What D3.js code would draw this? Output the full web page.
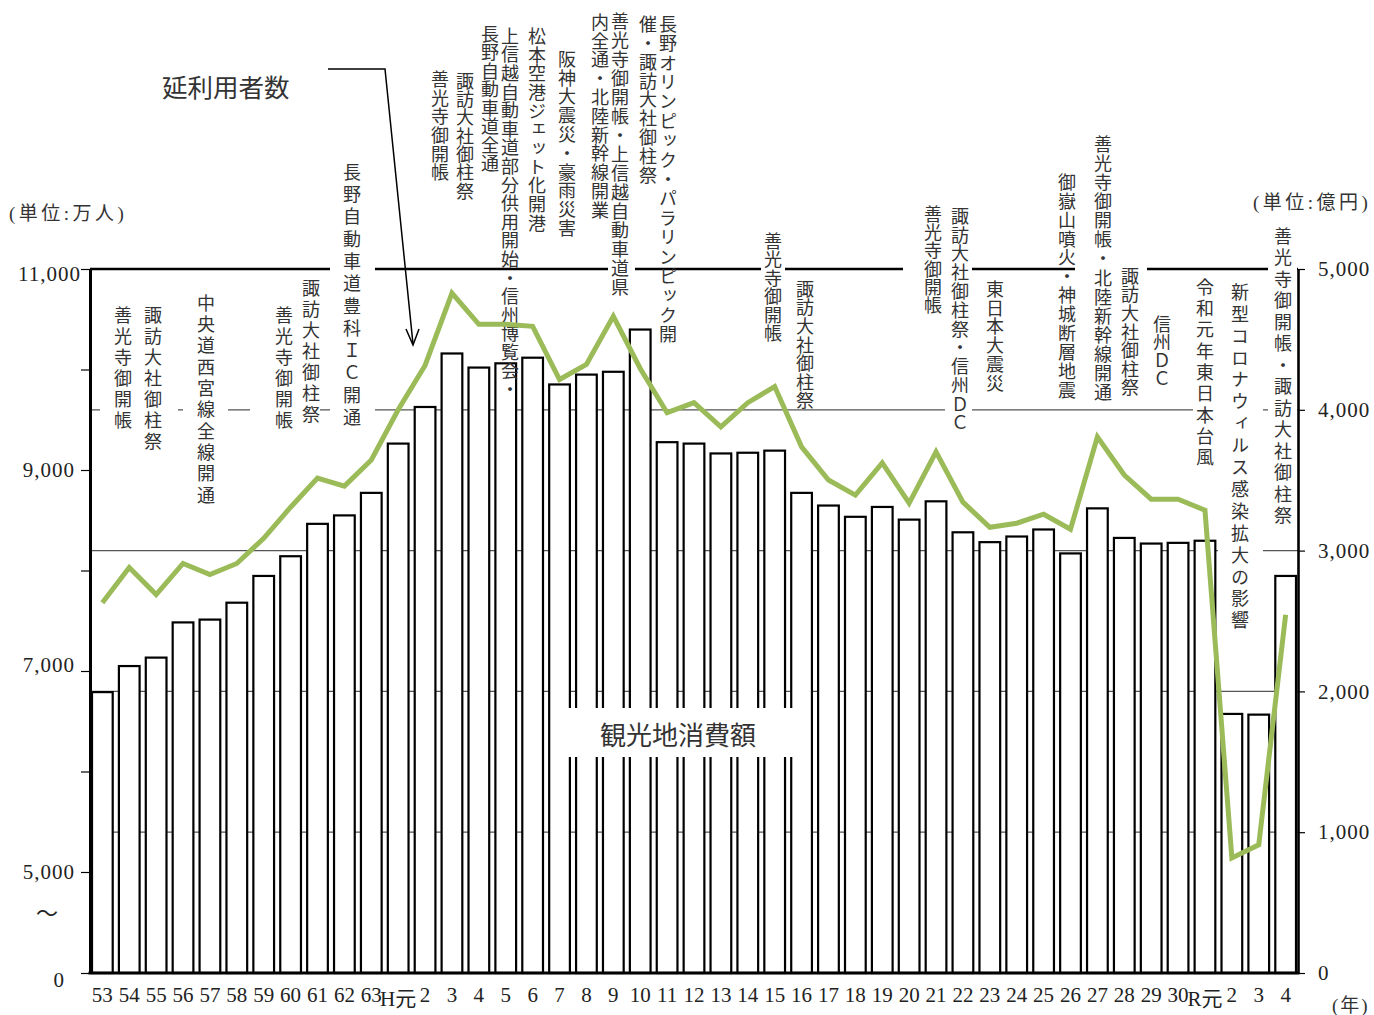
<!DOCTYPE html>
<html><head><meta charset="utf-8">
<script src="https://cdn.jsdelivr.net/npm/d3@7"></script>
<style>
body{margin:0;background:#fff;}
svg{display:block;}
</style></head><body>
<svg id="chart" width="1374" height="1015"></svg>
<script>
// ---------- data ----------
const years = ["53","54","55","56","57","58","59","60","61","62","63","H元","2","3","4","5","6","7","8","9","10","11","12","13","14","15","16","17","18","19","20","21","22","23","24","25","26","27","28","29","30","R元","2","3","4"];
// 観光地消費額 (億円, right axis)
const consumption = [1995,2180,2240,2490,2510,2630,2820,2960,3190,3250,3410,3760,4020,4400,4300,4330,4370,4180,4250,4270,4570,3770,3760,3690,3695,3710,3410,3320,3240,3310,3220,3350,3130,3060,3100,3150,2980,3300,3090,3050,3055,3070,1840,1835,2820];
// 延利用者数 (万人, left axis)
const visitors = [7680,8030,7760,8070,7960,8070,8320,8630,8920,8840,9100,9600,10040,10760,10450,10450,10430,9900,10050,10530,10010,9570,9670,9430,9670,9830,9230,8900,8750,9070,8670,9180,8680,8430,8470,8560,8410,9330,8950,8710,8710,8600,5140,5270,7560];
const leftTicks = [0,5000,6000,7000,8000,9000,10000,11000];
const leftLabeled = [0,5000,7000,9000,11000];
const rightTicks = [0,1000,2000,3000,4000,5000];
const eventLabels = [
 "善光寺御開帳","諏訪大社御柱祭","中央道西宮線全線開通","善光寺御開帳","諏訪大社御柱祭","長野自動車道豊科ＩＣ開通",
 "善光寺御開帳","諏訪大社御柱祭","長野自動車道全通","上信越自動車道部分供用開始・信州博覧会・","松本空港ジェット化開港","阪神大震災・豪雨災害","内全通・北陸新幹線開業","善光寺御開帳・上信越自動車道県","催・諏訪大社御柱祭","長野オリンピック・パラリンピック開",
 "善光寺御開帳","諏訪大社御柱祭","善光寺御開帳","諏訪大社御柱祭・信州ＤＣ","東日本大震災","御嶽山噴火・神城断層地震","善光寺御開帳・北陸新幹線開通","諏訪大社御柱祭","信州ＤＣ","令和元年東日本台風","新型コロナウィルス感染拡大の影響","善光寺御開帳・諏訪大社御柱祭"];

// ---------- layout (positions only) ----------
// [x, top, step, padLeft, padRight]
const labelLayout = [
 [123,306,21,23,22],[153,306,21,22,25],[206,294,21.3,23,22],[284,306,21,34,22],[311,279,21,22,9],[352,163,22.3,22,23],
 [440,70,18.7,10,10],[465,72,18.3,10,10],[490,25,18.5,10,10],[510,27,18.6,0,0],[537,27,18.7,10,10],[567,50,18.8,10,10],[600,13,18.8,17,12],[620,12,19,12,15],[648,15,18.9,10,10],[668,15,19.4,0,0],
 [773,232,18.5,12,12],[805,280,18.6,12,12],[933,205,18.3,30,15],[960,207,18.8,15,12],[995,280,18.8,12,12],[1067,173,18.9,0,0],[1103,135,19.1,28,15],[1130,267,18.6,15,17],[1162,315,18,12,12],[1205,278,21.3,12,13],[1240,283,21.9,22,23],[1283,227,21.5,15,14]
];
const L=90, R=1298, T=269, B=973;
const CJK = "'Noto Sans CJK JP','Noto Sans CJK SC',sans-serif";
const SERIF = "'Liberation Serif','DejaVu Serif',serif";
const MIX = "'Liberation Serif','Noto Sans CJK JP',serif";

const svg = d3.select("#chart");
svg.append("rect").attr("width",1374).attr("height",1015).attr("fill","#fff");

const x = d3.scaleBand().domain(d3.range(years.length)).range([92,1296]).paddingInner(0.23).paddingOuter(0);
const yL = d3.scaleLinear().domain([0,5000,11000]).range([B,872,T]);
const yR = d3.scaleLinear().domain([0,5000]).range([B,T]);

// gridlines
svg.append("g").selectAll("line").data(rightTicks.filter(d=>d>0)).join("line")
  .attr("x1",L).attr("x2",R).attr("y1",d=>yR(d)).attr("y2",d=>yR(d))
  .attr("stroke",d=>d===5000?"#000":"#555").attr("stroke-width",d=>d===5000?2.6:1.2);

// bars
svg.append("g").selectAll("rect").data(consumption).join("rect")
  .attr("x",(d,i)=>x(i)).attr("y",d=>yR(d))
  .attr("width",x.bandwidth()).attr("height",d=>B-yR(d))
  .attr("fill","#fff").attr("stroke","#000").attr("stroke-width",2.2);

// event labels
const gLab = svg.append("g");
eventLabels.forEach((s,i)=>{
  const [lx,top,step,pl,pr] = labelLayout[i];
  const n = Array.from(s).length;
  if (pl+pr>0) {
    gLab.append("rect").attr("x",lx-pl).attr("y",top-3).attr("width",pl+pr).attr("height",n*step-1).attr("fill","#fff");
  }
});
eventLabels.forEach((s,i)=>{
  const [lx,top,step] = labelLayout[i];
  gLab.append("text").attr("x",lx).attr("y",top)
    .style("writing-mode","vertical-rl").style("text-orientation","mixed")
    .style("letter-spacing",(step-18)+"px")
    .attr("font-family",CJK).attr("font-size",18).attr("fill","#333")
    .text(s);
});

// 観光地消費額 label
svg.append("rect").attr("x",563).attr("y",708).attr("width",230).attr("height",49).attr("fill","#fff");
svg.append("text").attr("x",678).attr("y",733).attr("text-anchor","middle").attr("dominant-baseline","central")
  .attr("font-family",CJK).attr("font-size",26).attr("fill","#333").text("観光地消費額");

// axes
const axL = d3.axisLeft(yL).tickValues(leftTicks).tickSize(9).tickSizeOuter(0).tickPadding(6)
  .tickFormat(d=>leftLabeled.includes(d)?d3.format(",")(d):"");
const gL = svg.append("g").attr("transform",`translate(${L},0)`).call(axL)
  .attr("font-family",SERIF).attr("font-size",21);
gL.select(".domain").attr("stroke-width",3);
gL.selectAll(".tick line").attr("stroke-width",1.2);
gL.selectAll(".tick text").attr("fill","#222").style("letter-spacing","1px");
gL.selectAll(".tick text").filter(d=>d===11000).attr("dx",6).attr("dy","0.55em");
gL.selectAll(".tick text").filter(d=>d===7000).attr("dy","0.0em");
gL.selectAll(".tick text").filter(d=>d===0).attr("dx",-10).attr("dy","0.65em");

const axR = d3.axisRight(yR).tickValues(rightTicks).tickSize(7).tickSizeOuter(0).tickPadding(13).tickFormat(d3.format(","));
const gR = svg.append("g").attr("transform",`translate(${R},0)`).call(axR)
  .attr("font-family",SERIF).attr("font-size",21);
gR.select(".domain").attr("stroke-width",2.6);
gR.selectAll(".tick line").attr("stroke-width",1.2);
gR.selectAll(".tick text").attr("fill","#222").style("letter-spacing","1px");

const axB = d3.axisBottom(x).tickSize(0).tickSizeOuter(0).tickPadding(14).tickFormat(i=>years[i]);
const gB = svg.append("g").attr("transform",`translate(0,${B})`).call(axB)
  .attr("font-family",SERIF).attr("font-size",21);
gB.select(".domain").attr("d",`M${L-1.5},0H${R+1.3}`).attr("stroke-width",3);
gB.selectAll(".tick text").attr("fill","#222");
gB.selectAll(".tick text").filter(i=>years[i].includes("元")).attr("dy","0.92em").attr("font-family",MIX);

// axis break mark
svg.append("text").attr("x",47).attr("y",911).attr("text-anchor","middle").attr("dominant-baseline","central")
  .attr("font-family",CJK).attr("font-size",22).attr("fill","#222").text("〜");

// visitors line
const line = d3.line().x((d,i)=>x(i)+x.bandwidth()/2).y(d=>yL(d));
svg.append("path").datum(visitors).attr("d",line).attr("fill","none")
  .attr("stroke","#9bbb59").attr("stroke-width",5).attr("stroke-linejoin","miter");

// series label + arrow
svg.append("text").attr("x",162).attr("y",85).attr("dominant-baseline","central")
  .attr("font-family",CJK).attr("font-size",25.5).attr("fill","#333").text("延利用者数");
svg.append("path").attr("d","M328,69H385L413,344").attr("fill","none").attr("stroke","#000").attr("stroke-width",1.5);
svg.append("path").attr("d","M406,329L413,345L419,329").attr("fill","none").attr("stroke","#000").attr("stroke-width",1.5);

// units
svg.append("text").attr("x",9).attr("y",213).attr("dominant-baseline","central")
  .attr("font-family",MIX).attr("font-size",19).style("letter-spacing","3.5px").attr("fill","#333").text("(単位:万人)");
svg.append("text").attr("x",1253).attr("y",202).attr("dominant-baseline","central")
  .attr("font-family",MIX).attr("font-size",19).style("letter-spacing","3.5px").attr("fill","#333").text("(単位:億円)");
svg.append("text").attr("x",1332).attr("y",1005).attr("dominant-baseline","central")
  .attr("font-family",MIX).attr("font-size",19).style("letter-spacing","2px").attr("fill","#333").text("(年)");
</script>
</body></html>
